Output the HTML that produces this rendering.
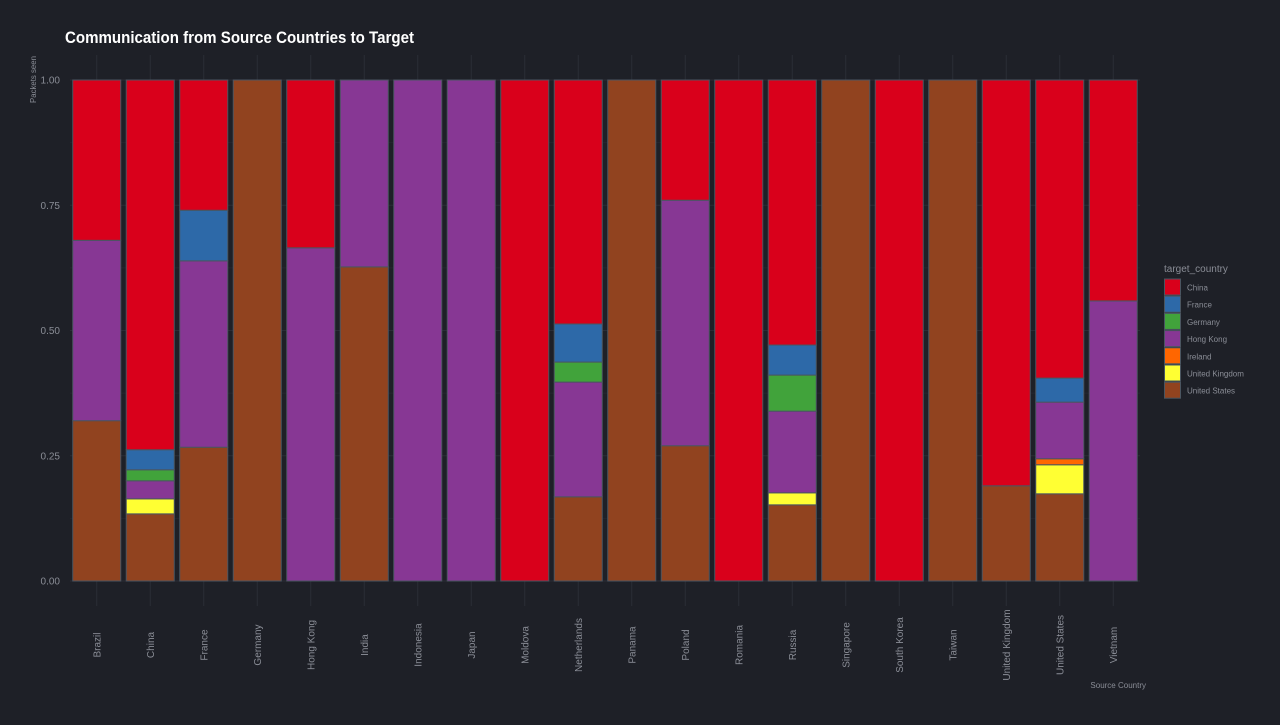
<!DOCTYPE html>
<html><head><meta charset="utf-8"><style>
body{margin:0;background:#1e2027;font-family:"Liberation Sans",sans-serif;}
svg text{font-family:"Liberation Sans",sans-serif;}
</style></head><body>
<svg id="chart" width="1280" height="720" viewBox="0 0 1280 720">
<rect width="1280" height="720" fill="#1e2027"/>
<text x="65" y="43" fill="#ffffff" font-size="17" font-weight="bold" textLength="349" lengthAdjust="spacingAndGlyphs">Communication from Source Countries to Target</text>
<text transform="translate(36,56) rotate(-90)" fill="#8a8d96" font-size="8" text-anchor="end" textLength="47" lengthAdjust="spacingAndGlyphs">Packets seen</text>
<text x="1146" y="688" fill="#8a8d96" font-size="8" text-anchor="end">Source Country</text>
<g id="grid"></g><g id="bars"></g><g id="axes"></g><g id="legend"></g>
</svg>
<script>
const categories=["Brazil","China","France","Germany","Hong Kong","India","Indonesia","Japan","Moldova","Netherlands","Panama","Poland","Romania","Russia","Singapore","South Korea","Taiwan","United Kingdom","United States","Vietnam"];
const targets=["United States","United Kingdom","Ireland","Hong Kong","Germany","France","China"];
const usVals=[0.32,0.134,0.267,1,0,0.627,0,0,0,0.168,1,0.27,0,0.152,1,0,1,0.19,0.174,0];
const ukVals=[0,0.03,0,0,0,0,0,0,0,0,0,0,0,0.024,0,0,0,0,0.058,0];
const ieVals=[0,0,0,0,0,0,0,0,0,0,0,0,0,0,0,0,0,0,0.012,0];
const hkVals=[0.36,0.036,0.372,0,0.665,0.373,1,1,0,0.229,0,0.49,0,0.163,0,0,0,0,0.113,0.559];
const deVals=[0,0.022,0,0,0,0,0,0,0,0.04,0,0,0,0.072,0,0,0,0,0,0];
const frVals=[0,0.04,0.101,0,0,0,0,0,0,0.076,0,0,0,0.06,0,0,0,0,0.048,0];
const cnVals=[0.32,0.738,0.26,0,0.335,0,0,0,1,0.487,0,0.24,1,0.529,0,1,0,0.81,0.595,0.441];
const yTicks=[0,0.25,0.5,0.75,1];
const yTickLabels=["0.00","0.25","0.50","0.75","1.00"];
const legendLabels=["China","France","Germany","Hong Kong","Ireland","United Kingdom","United States"];
const series=[usVals,ukVals,ieVals,hkVals,deVals,frVals,cnVals];
const colors={"China":"#d9001b","France":"#2d69a8","Germany":"#41a33b","Hong Kong":"#873794","Ireland":"#ff6600","United Kingdom":"#ffff33","United States":"#91431f"};
const NS="http://www.w3.org/2000/svg";
const x0=70,x1=1140,yBase=581,yTop=80;
const step=(x1-x0)/categories.length, bw=48;
const xc=i=>x0+step*(i+0.5);
const ys=v=>yBase-v*(yBase-yTop);
function mk(t,a){const e=document.createElementNS(NS,t);for(const k in a)e.setAttribute(k,a[k]);return e;}
const grid=document.getElementById('grid'),bars=document.getElementById('bars'),axes=document.getElementById('axes'),legend=document.getElementById('legend');
yTicks.forEach((t,i)=>{
 const l=mk('line',{x1:x0,x2:x1,y1:ys(t),y2:ys(t),stroke:'#2a2d36','stroke-width':1});
 
 
 grid.appendChild(l);
 if(i<yTicks.length-1){const m=mk('line',{x1:x0,x2:x1,y1:ys((t+yTicks[i+1])/2),y2:ys((t+yTicks[i+1])/2),stroke:'#24262f','stroke-width':1});
 
 
 grid.appendChild(m);}
 const tx=mk('text',{x:x0-10,y:ys(t)+3.5,fill:'#8a8d96','font-size':10,'text-anchor':'end'});
 tx.textContent=yTickLabels[i];
 
 
 axes.appendChild(tx);
});
categories.forEach((c,i)=>{
 const g=mk('line',{x1:xc(i),x2:xc(i),y1:yTop-25,y2:yBase+25,stroke:'#2a2d36','stroke-width':1});
 
 
 grid.appendChild(g);
 let cum=0;
 series.forEach((s,k)=>{
  const v=s[i]; if(v<=0) return;
  const r=mk('rect',{x:xc(i)-bw/2,y:ys(cum+v),width:bw,height:ys(cum)-ys(cum+v),fill:colors[targets[k]],stroke:'#4a5560','stroke-width':1});
  
  
  bars.appendChild(r); cum+=v;
 });
 const tx=mk('text',{transform:`translate(${xc(i)+3.5},645) rotate(-90)`,fill:'#8a8d96','font-size':10,'text-anchor':'middle'});
 tx.textContent=c;
 
 
 axes.appendChild(tx);
});
const lt=mk('text',{x:1164,y:272,fill:'#8a8d96','font-size':10});
lt.textContent='target_country';


legend.appendChild(lt);
legendLabels.forEach((n,i)=>{
 const y=279+i*17.2;
 const r=mk('rect',{x:1164.5,y:y,width:16,height:16,fill:colors[n],stroke:'#4a5560','stroke-width':1});
 
 
 legend.appendChild(r);
 const t=mk('text',{x:1187,y:y+11.5,fill:'#8a8d96','font-size':8});
 t.textContent=n;
 
 
 legend.appendChild(t);
});
</script>
</body></html>
